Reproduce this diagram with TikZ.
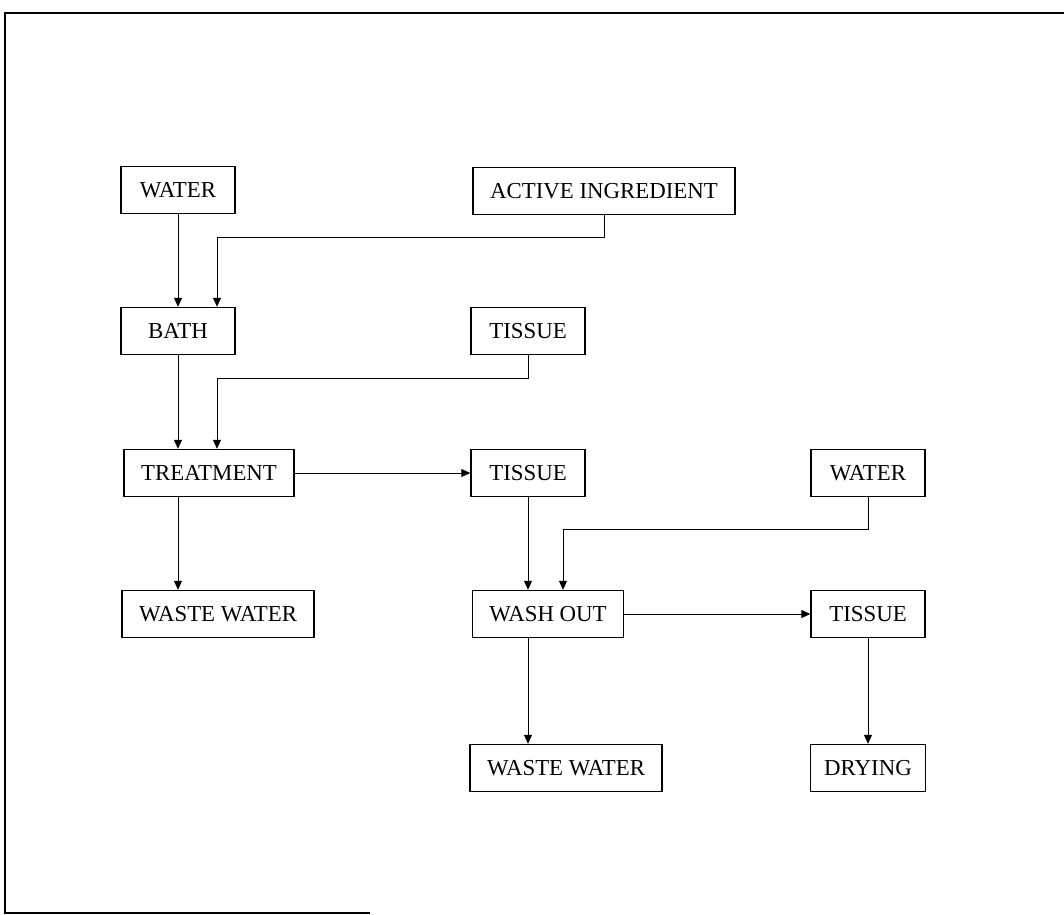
\documentclass[tikz,border=0pt]{standalone}
\usepackage{fontspec}
\setmainfont{Liberation Serif}
\usepackage{tikz}
\usetikzlibrary{arrows.meta,positioning,calc}

\begin{document}
\begin{tikzpicture}[x=0.02cm,y=-0.02cm,font=\fontsize{13}{15}\selectfont,
    blk/.style={draw,line width=0.8pt,minimum width=2.28cm,minimum height=0.94cm,inner xsep=0.34cm},
    flow/.style={line width=0.55pt,-{Triangle[length=1.8mm,width=1.6mm]}}]
  \useasboundingbox (0,0) rectangle (1064,915);
  % frame
  \draw[line width=1.6pt] (1064,13) -- (5,13) -- (5,913) -- (370,913);
  % boxes
  \node[blk] (water1) at (178,190) {WATER};
  \node[blk] (active) at (604,191) {ACTIVE INGREDIENT};
  \node[blk] (bath) at (178,331) {BATH};
  \node[blk] (tis1) at (528,331) {TISSUE};
  \node[blk] (treat) at (209,473) {TREATMENT};
  \node[blk] (tis2) at (528,473) {TISSUE};
  \node[blk] (water2) at (868,473) {WATER};
  \node[blk] (waste1) at (218,614) {WASTE WATER};
  \node[blk] (wash) at (548,614) {WASH OUT};
  \node[blk] (tis3) at (868,614) {TISSUE};
  \node[blk] (waste2) at (566,768) {WASTE WATER};
  \node[blk,inner xsep=0.27cm] (dry) at (868,768) {DRYING};
  % connectors
  \draw[flow] (water1) -- (bath);
  \draw[flow] (active.south) -- ++(0,22) -| ([xshift=0.78cm]bath.north);
  \draw[flow] (bath.south) -- (bath.south |- treat.north);
  \draw[flow] (tis1.south) -- ++(0,23) -| ([xshift=0.16cm]treat.north);
  \draw[flow] (treat) -- (tis2);
  \draw[flow] (bath.south |- treat.south) -- (bath.south |- waste1.north);
  \draw[flow] (tis2.south) -- (tis2.south |- wash.north);
  \draw[flow] (water2.south) -- ++(0,32) -| ([xshift=0.3cm]wash.north);
  \draw[flow] (wash) -- (tis3);
  \draw[flow] (tis2.south |- wash.south) -- (tis2.south |- waste2.north);
  \draw[flow] (tis3) -- (dry);
\end{tikzpicture}
\end{document}
